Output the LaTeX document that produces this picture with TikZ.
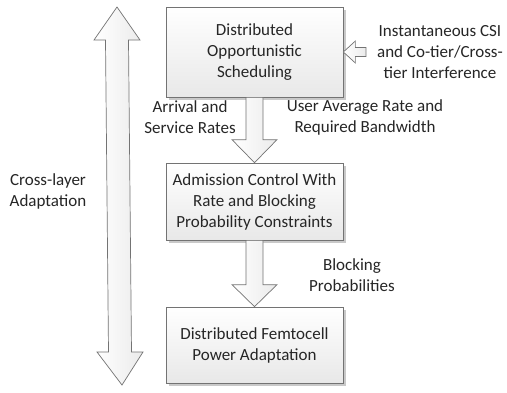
\documentclass[tikz,border=0pt]{standalone}
\usepackage{fontspec}
\setmainfont{Carlito}
\usetikzlibrary{shadows,calc}
\tikzset{
  txt/.style={align=center, font=\fontsize{17}{21}\selectfont, text=black!85, inner sep=0pt},
  blockbox/.style={draw=black!55, line width=0.7pt, top color=white, bottom color=black!9,
    drop shadow={shadow xshift=2.5pt, shadow yshift=-2.5pt, fill=black!35, opacity=0.6},
    minimum width=177pt, align=center, font=\fontsize{17}{21}\selectfont, text=black!85, inner sep=0pt},
  fatarrow/.style={draw=black!55, line width=0.7pt, left color=white, right color=black!8, line join=miter},
}
\begin{document}
\begin{tikzpicture}[x=1pt,y=-1pt]
\path[use as bounding box, fill=white] (0,0) rectangle (507,392);

% boxes
\node[blockbox, minimum height=90pt] (b1) at (254.5,52) {Distributed\\Opportunistic\\Scheduling};
\node[blockbox, minimum height=77pt] (b2) at (254.5,201.5) {Admission Control With\\Rate and Blocking\\Probability Constraints};
\node[blockbox, minimum height=76pt] (b3) at (254.5,345) {Distributed Femtocell\\Power Adaptation};

% down block arrows
\path[fatarrow] ($(b1.south)+(-8.5,0)$) -- ($(b2.north)+(-8.5,-23)$) -- ($(b2.north)+(-22.5,-23)$)
  -- (b2.north) -- ($(b2.north)+(22.5,-23)$) -- ($(b2.north)+(8.5,-23)$) -- ($(b1.south)+(8.5,0)$) -- cycle;
\path[fatarrow] ($(b2.south)+(-8.5,0)$) -- ($(b3.north)+(-8.5,-22)$) -- ($(b3.north)+(-22.5,-22)$)
  -- (b3.north) -- ($(b3.north)+(22.5,-22)$) -- ($(b3.north)+(8.5,-22)$) -- ($(b2.south)+(8.5,0)$) -- cycle;

% input arrow into b1
\coordinate (inend) at (366,52);
\path[fatarrow] (b1.east) -- ($(b1.east)+(12,-11)$) -- ($(b1.east)+(12,-4.5)$) -- ($(inend)+(0,-4.5)$)
  -- ($(inend)+(0,4.5)$) -- ($(b1.east)+(12,4.5)$) -- ($(b1.east)+(12,11)$) -- cycle;

% cross-layer double arrow
\coordinate (ct) at (117,7);
\coordinate (cb) at (122,385);
\path[fatarrow] (ct) -- (94,40) -- (105.5,40) -- (108.5,352) -- (97,352) -- (cb)
  -- (143,352) -- (131.5,352) -- (128.5,40) -- (140,40) -- cycle;

% labels
\node[txt] (l1) at (440,52) {Instantaneous CSI\\and Co-tier/Cross-\\tier Interference};
\node[txt] (l2) at (190,117) {Arrival and\\Service Rates};
\node[txt] (l3) at (365,117) {User Average Rate and\\Required Bandwidth};
\node[txt] (l4) at (48,191) {Cross-layer\\Adaptation};
\node[txt] (l5) at (352,275) {Blocking\\Probabilities};
\end{tikzpicture}
\end{document}
